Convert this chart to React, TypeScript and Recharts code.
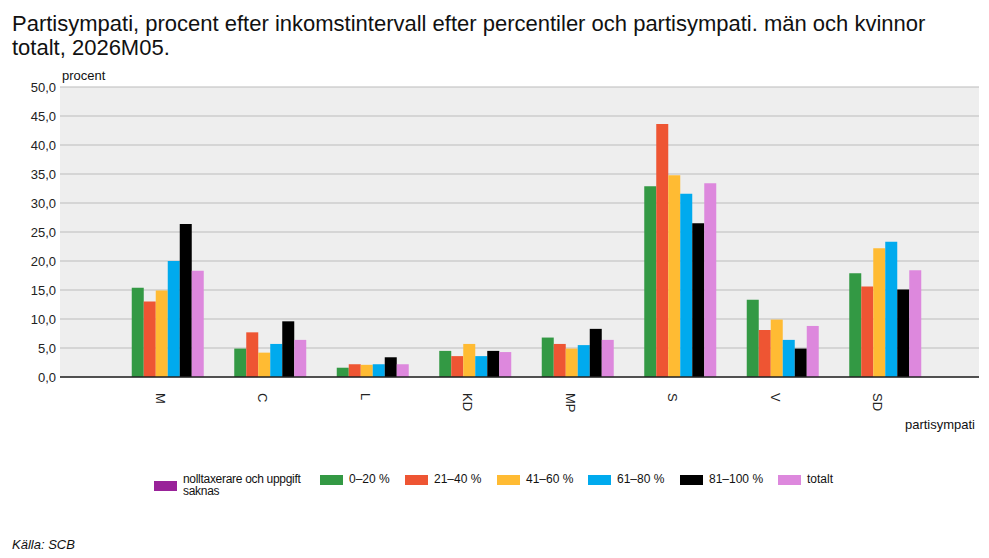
import React from "react"
import { Bar, BarChart, XAxis, YAxis, CartesianGrid } from "recharts"

const partier = ["M", "C", "L", "KD", "MP", "S", "V", "SD"]

const saknas: (number | null)[] = [null, null, null, null, null, null, null, null]
const p0_20 = [15.4, 4.9, 1.6, 4.5, 6.8, 32.9, 13.3, 17.9]
const p21_40 = [13.0, 7.7, 2.2, 3.6, 5.7, 43.6, 8.1, 15.6]
const p41_60 = [14.9, 4.2, 2.1, 5.7, 4.9, 34.8, 9.9, 22.2]
const p61_80 = [20.0, 5.7, 2.2, 3.6, 5.5, 31.6, 6.4, 23.3]
const p81_100 = [26.4, 9.6, 3.4, 4.5, 8.3, 26.5, 4.9, 15.1]
const totalt = [18.3, 6.4, 2.2, 4.3, 6.4, 33.4, 8.8, 18.4]

const yTicks = [0, 5, 10, 15, 20, 25, 30, 35, 40, 45, 50]

const series = [
  { key: "saknas", name: "nolltaxerare och uppgift saknas", color: "#992299", values: saknas },
  { key: "p0_20", name: "0–20 %", color: "#339944", values: p0_20 },
  { key: "p21_40", name: "21–40 %", color: "#ee5533", values: p21_40 },
  { key: "p41_60", name: "41–60 %", color: "#ffbb33", values: p41_60 },
  { key: "p61_80", name: "61–80 %", color: "#00aaee", values: p61_80 },
  { key: "p81_100", name: "81–100 %", color: "#000000", values: p81_100 },
  { key: "totalt", name: "totalt", color: "#dd88dd", values: totalt },
]

const chartData = partier.map((parti, i) => {
  const row: { [key: string]: string | number | null } = { parti }
  series.forEach((s) => {
    row[s.key] = s.values[i]
  })
  return row
})

const font = "'Liberation Sans', Arial, sans-serif"

// legend swatch x positions
const legendX = [154, 320, 405, 497, 588, 680, 778]

const PartiTick = ({ x, y, payload }: any) => (
  <text
    x={x}
    y={y + 8}
    transform={`rotate(90, ${x}, ${y + 8})`}
    textAnchor="start"
    dominantBaseline="central"
    fontSize={13}
    fontFamily={font}
    fill="#222"
  >
    {payload.value}
  </text>
)

export default function App() {
  return (
    <div style={{ position: "absolute", left: 0, top: 0, width: 989, height: 558, background: "#fff", fontFamily: font, color: "#111" }}>
      <div style={{ position: "absolute", left: 12, top: 12, width: 965, fontSize: 22, lineHeight: "24px" }}>
        Partisympati, procent efter inkomstintervall efter percentiler och partisympati. män och kvinnor totalt, 2026M05.
      </div>
      <div style={{ position: "absolute", left: 62, top: 68, fontSize: 13 }}>procent</div>
      <div style={{ position: "absolute", right: 14, top: 417, fontSize: 13 }}>partisympati</div>

      <div style={{ position: "absolute", left: 0, top: 0 }}>
        <BarChart
          width={989}
          height={440}
          data={chartData}
          margin={{ top: 87, right: 10, left: 0, bottom: 0 }}
          barGap={0}
          barCategoryGap={10.75}
        >
          <CartesianGrid vertical={false} stroke="#bbbbbb" strokeWidth={1.2} fill="#eeeeee" />
          <XAxis
            dataKey="parti"
            height={63}
            padding={{ left: 49, right: 50 }}
            tickLine={false}
            axisLine={{ stroke: "#222", strokeWidth: 1.5 }}
            tick={<PartiTick />}
            interval={0}
          />
          <YAxis
            width={60}
            domain={[0, 50]}
            ticks={yTicks}
            tickFormatter={(v: number) => v.toFixed(1).replace(".", ",")}
            axisLine={false}
            tickLine={false}
            tickSize={0}
            tickMargin={4}
            tick={{ fill: "#222", fontSize: 13, fontFamily: font }}
          />
          {series.map((s) => (
            <Bar key={s.key} dataKey={s.key} name={s.name} fill={s.color} isAnimationActive={false} />
          ))}
        </BarChart>
      </div>

      {series.map((s, i) => (
        <div key={s.key} style={{ position: "absolute", left: legendX[i], top: 473, display: "flex", alignItems: "flex-start" }}>
          <div style={{ width: 23, height: 10, background: s.color, marginTop: i === 0 ? 8 : 2 }} />
          <div
            style={{
              marginLeft: 6,
              fontSize: 12,
              letterSpacing: i === 0 ? -0.3 : 0,
              lineHeight: "12px",
              width: i === 0 ? 135 : undefined,
              whiteSpace: i === 0 ? "normal" : "nowrap",
            }}
          >
            {s.name}
          </div>
        </div>
      ))}

      <div style={{ position: "absolute", left: 12, top: 537, fontSize: 13, fontStyle: "italic" }}>Källa: SCB</div>
    </div>
  )
}
